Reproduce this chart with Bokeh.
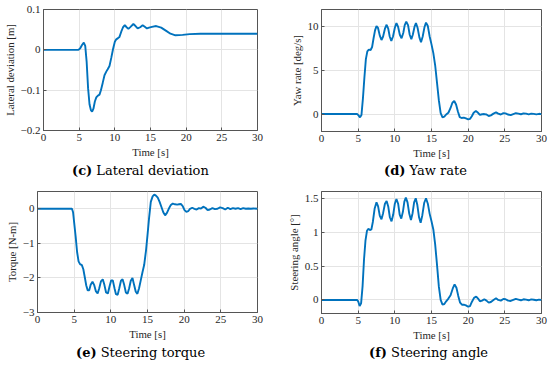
from bokeh.plotting import figure
from bokeh.layouts import column, row
from bokeh.models import Range1d, FixedTicker, Div
from bokeh.embed import file_html
from bokeh.resources import INLINE

# ---------------- data ----------------
x_ticks = [0, 5, 10, 15, 20, 25, 30]

# (c) Lateral deviation [m]
t_lat = [0, 4.9, 5.15, 5.4, 5.65, 5.85, 6.05, 6.25, 6.45, 6.65,
         6.82, 7.0, 7.2, 7.4, 7.6, 7.85, 8.05, 8.3, 8.55, 8.8,
         9.0, 9.25, 9.5, 9.75, 10.0, 10.2, 10.45, 10.65, 10.9, 11.15,
         11.4, 11.65, 11.9, 12.2, 12.6, 12.9, 13.2, 13.55, 13.9, 14.2,
         14.5, 14.8, 15.2, 15.8, 16.5, 17.2, 17.8, 18.5, 19.5, 20.5,
         22.0, 25.0, 30.0]
v_lat = [0, 0, 0.004, 0.012, 0.018, 0.010, -0.030, -0.095, -0.135, -0.150,
         -0.153, -0.146, -0.128, -0.118, -0.114, -0.111, -0.100, -0.082, -0.063, -0.054,
         -0.048, -0.040, -0.020, 0.002, 0.020, 0.026, 0.029, 0.032, 0.045, 0.056,
         0.061, 0.056, 0.052, 0.057, 0.064, 0.059, 0.053, 0.056, 0.061, 0.057,
         0.053, 0.055, 0.057, 0.059, 0.055, 0.047, 0.040, 0.036, 0.037, 0.039,
         0.040, 0.040, 0.040]
lat_ticks = [-0.2, -0.1, 0, 0.1]
lat_labels = ["\u22120.2", "\u22120.1", "0", "0.1"]

# (d) Yaw rate [deg/s]
t_yaw = [0, 4.85, 5.05, 5.25, 5.45, 5.65, 5.85, 6.05, 6.25, 6.45,
         6.7, 6.9, 7.1, 7.3, 7.5, 7.7, 7.95, 8.18, 8.4, 8.65,
         8.88, 9.1, 9.3, 9.52, 9.75, 10.0, 10.22, 10.45, 10.68, 10.92,
         11.15, 11.35, 11.56, 11.8, 12.03, 12.25, 12.45, 12.68, 12.88, 13.1,
         13.35, 13.57, 13.8, 14.05, 14.25, 14.5, 14.75, 15.0, 15.25, 15.5,
         15.75, 16.0, 16.25, 16.5, 16.75, 17.0, 17.3, 17.6, 17.85, 18.1,
         18.35, 18.6, 18.85, 19.1, 19.4, 19.7, 20.0, 20.25, 20.5, 20.75,
         21.05, 21.35, 21.6, 21.9, 22.2, 22.5, 22.8, 23.1, 23.45, 23.8,
         24.1, 24.45, 24.8, 25.1, 25.45, 25.8, 26.15, 26.5, 26.85, 27.2,
         27.55, 27.9, 28.25, 28.6, 28.95, 29.3, 29.65, 30]
v_yaw = [0, 0, -0.15, -0.38, -0.1, 1.8, 4.2, 6.3, 7.2, 7.4,
         7.35, 7.7, 8.7, 9.6, 10.1, 9.9, 9.0, 8.5, 8.9, 9.8,
         10.25, 9.8, 8.9, 8.4, 8.9, 9.9, 10.45, 10.0, 9.1, 8.7,
         9.3, 10.2, 10.6, 10.2, 9.1, 8.6, 9.1, 10.0, 10.45, 9.9,
         8.8, 8.25, 8.9, 10.0, 10.5, 10.1, 8.9, 8.0, 7.0, 5.6,
         3.6, 1.6, 0.1, -0.38, -0.3, -0.05, 0.15, 0.7, 1.3, 1.5,
         1.1, 0.3, -0.35, -0.45, -0.4, -0.5, -0.6, -0.55, -0.25, 0.15,
         0.35, 0.15, -0.1, -0.02, 0.0, -0.05, -0.22, -0.15, 0.05, 0.2,
         0.05, -0.05, 0.1, 0.08, -0.05, -0.12, 0.0, 0.1, 0.05, -0.02,
         0.08, 0.05, -0.03, 0.05, 0.02, -0.03, 0.03, 0.0]
yaw_ticks = [0, 5, 10]
yaw_labels = ["0", "5", "10"]

# (e) Steering torque [N-m]
t_trq = [0, 4.7, 4.85, 5.0, 5.2, 5.4, 5.6, 5.8, 6.05, 6.25,
         6.45, 6.65, 6.85, 7.05, 7.25, 7.5, 7.72, 7.95, 8.2, 8.42,
         8.65, 8.9, 9.12, 9.35, 9.6, 9.82, 10.05, 10.27, 10.5, 10.7,
         10.93, 11.15, 11.38, 11.6, 11.82, 12.05, 12.28, 12.5, 12.72, 12.95,
         13.17, 13.4, 13.62, 13.85, 14.1, 14.3, 14.55, 14.8, 15.0, 15.2,
         15.45, 15.7, 15.92, 16.15, 16.4, 16.65, 16.9, 17.15, 17.4, 17.65,
         17.9, 18.15, 18.45, 18.75, 19.05, 19.3, 19.55, 19.8, 20.05, 20.3,
         20.55, 20.8, 21.1, 21.4, 21.7, 22.0, 22.3, 22.6, 22.9, 23.2,
         23.5, 23.85, 24.2, 24.55, 24.9, 25.25, 25.6, 25.95, 26.3, 26.65,
         27.0, 27.35, 27.7, 28.05, 28.4, 28.75, 29.1, 29.45, 30]
v_trq = [0, 0, -0.1, -0.4, -0.8, -1.25, -1.52, -1.6, -1.63, -1.75,
         -1.98, -2.22, -2.36, -2.36, -2.2, -2.11, -2.2, -2.38, -2.45, -2.3,
         -2.1, -2.04, -2.2, -2.42, -2.45, -2.25, -2.07, -2.07, -2.3, -2.47,
         -2.49, -2.3, -2.08, -2.04, -2.2, -2.42, -2.46, -2.3, -2.08, -2.0,
         -2.2, -2.4, -2.46, -2.3, -2.05, -1.85, -1.62, -1.2, -0.76, -0.3,
         0.2, 0.36, 0.41, 0.38, 0.32, 0.2, 0.05, -0.1, -0.19, -0.12,
         0.0, 0.1, 0.15, 0.13, 0.12, 0.13, 0.14, 0.08, -0.04, -0.09,
         -0.07, 0.0, 0.03, 0.0, -0.02, 0.02, 0.01, 0.06, 0.03, -0.04,
         -0.02, 0.02, -0.01, 0.0, 0.04, 0.02, -0.02, 0.03, -0.01, 0.02,
         0.0, 0.02, -0.01, 0.02, 0.0, 0.01, 0.0, 0.01, 0.0]
trq_ticks = [-3, -2, -1, 0]
trq_labels = ["\u22123", "\u22122", "\u22121", "0"]

# (f) Steering angle [deg]
t_ang = [0, 4.85, 5.0, 5.2, 5.4, 5.6, 5.8, 6.0, 6.2, 6.4,
         6.6, 6.8, 7.0, 7.25, 7.5, 7.72, 7.95, 8.18, 8.4, 8.65,
         8.88, 9.1, 9.32, 9.55, 9.78, 10.0, 10.22, 10.45, 10.66, 10.88,
         11.1, 11.3, 11.5, 11.73, 11.97, 12.2, 12.42, 12.63, 12.85, 13.07,
         13.3, 13.52, 13.75, 14.0, 14.25, 14.5, 14.75, 15.0, 15.25, 15.5,
         15.75, 16.0, 16.25, 16.5, 16.75, 17.0, 17.3, 17.6, 17.9, 18.15,
         18.4, 18.65, 18.9, 19.15, 19.4, 19.7, 20.0, 20.25, 20.5, 20.8,
         21.1, 21.35, 21.6, 21.9, 22.2, 22.5, 22.8, 23.1, 23.45, 23.8,
         24.1, 24.45, 24.8, 25.1, 25.45, 25.8, 26.15, 26.5, 26.85, 27.2,
         27.55, 27.9, 28.25, 28.6, 28.95, 29.3, 29.65, 30]
v_ang = [0, 0, -0.02, -0.09, -0.05, 0.2, 0.6, 0.88, 1.02, 1.05,
         1.03, 1.04, 1.15, 1.35, 1.44, 1.38, 1.24, 1.19, 1.28, 1.42,
         1.46, 1.38, 1.22, 1.16, 1.26, 1.42, 1.49, 1.42, 1.26, 1.2,
         1.3, 1.45, 1.51, 1.44, 1.27, 1.18, 1.28, 1.44, 1.5, 1.4,
         1.22, 1.14, 1.25, 1.43, 1.5, 1.42, 1.27, 1.16, 1.04, 0.82,
         0.52, 0.2, 0.0, -0.07, -0.06, -0.02, 0.02, 0.07, 0.17, 0.23,
         0.18, 0.06, -0.04, -0.07, -0.07, -0.08, -0.1, -0.09, -0.03, 0.03,
         0.05, 0.02, -0.02, -0.01, 0.01, -0.01, -0.04, -0.03, 0.0, 0.025,
         0.0, -0.01, 0.015, 0.01, -0.01, -0.015, 0.0, 0.015, 0.005, -0.005,
         0.01, 0.005, -0.005, 0.008, 0.003, -0.005, 0.004, 0.0]
ang_ticks = [0, 0.5, 1, 1.5]
ang_labels = ["0", "0.5", "1", "1.5"]

# ---------------- styling ----------------
SERIF = "Liberation Serif"
LINE = "#0072BD"
AX = "#555555"
TXT = "#262626"
GRID = "#e4e4e4"


def panel(t, v, ylim, yticks, ylabels, ylabel, width, height, borders):
    bl, br, bt, bb = borders
    p = figure(width=width, height=height, output_backend="svg",
               toolbar_location=None, x_range=Range1d(0, 30),
               y_range=Range1d(*ylim),
               min_border_left=bl, min_border_right=br,
               min_border_top=bt, min_border_bottom=bb,
               x_axis_label="Time [s]", y_axis_label=ylabel)
    p.outline_line_color = AX
    p.outline_line_width = 1
    p.background_fill_color = "white"
    p.border_fill_color = "white"
    p.xaxis.ticker = FixedTicker(ticks=x_ticks)
    p.yaxis.ticker = FixedTicker(ticks=yticks)
    p.yaxis.major_label_overrides = {k: lab for k, lab in zip(yticks, ylabels)}
    for ax in (p.xaxis[0], p.yaxis[0]):
        ax.axis_line_color = AX
        ax.major_tick_line_color = AX
        ax.major_tick_in = 3
        ax.major_tick_out = 0
        ax.minor_tick_line_color = None
        ax.major_label_text_font = SERIF
        ax.major_label_text_font_size = "11px"
        ax.major_label_text_color = TXT
        ax.major_label_standoff = 3
        ax.axis_label_text_font = SERIF
        ax.axis_label_text_font_size = "10.8px"
        ax.axis_label_text_font_style = "normal"
        ax.axis_label_text_color = TXT
        ax.axis_label_standoff = 2
    p.xgrid.grid_line_color = GRID
    p.ygrid.grid_line_color = GRID
    p.xgrid.ticker = FixedTicker(ticks=x_ticks)
    p.ygrid.ticker = FixedTicker(ticks=yticks)
    p.line(t, v, line_color=LINE, line_width=1.9)
    return p


def caption(letter, text, left, width, height, pad_top):
    html = ('<div style="margin:0; padding:%dpx 0 0 %dpx; '
            'font-family:\'DejaVu Serif\', serif; font-size:13px; '
            'font-weight:normal; line-height:16px; color:#000; '
            'white-space:nowrap;">'
            '<span style="font-weight:bold;">%s</span> %s</div>') % (
                pad_top, left, letter, text)
    return Div(text=html, width=width, height=height, margin=0)


p_c = panel(t_lat, v_lat, (-0.2, 0.1), lat_ticks, lat_labels,
            "Lateral deviation [m]", 275, 162, (40, 18, 9, 32))
p_d = panel(t_yaw, v_yaw, (-2, 12), yaw_ticks, yaw_labels,
            "Yaw rate [deg/s]", 275, 162, (46, 9, 9, 31))
p_e = panel(t_trq, v_trq, (-3, 0.5), trq_ticks, trq_labels,
            "Torque [N-m]", 275, 162, (37, 18, 9, 32))
p_f = panel(t_ang, v_ang, (-0.2, 1.6), ang_ticks, ang_labels,
            "Steering angle [\u00b0]", 275, 162, (46, 9, 9, 31))

c_c = caption("(c)", "Lateral deviation", 72, 275, 20, 1)
c_d = caption("(d)", "Yaw rate", 109, 275, 20, 1)
c_e = caption("(e)", "Steering torque", 76, 275, 21, 1)
c_f = caption("(f)", "Steering angle", 94, 275, 21, 1)

layout = column(row(column(p_c, c_c), column(p_d, c_d)),
                row(column(p_e, c_e), column(p_f, c_f)))
open("out.html", "w").write(file_html(layout, INLINE))
